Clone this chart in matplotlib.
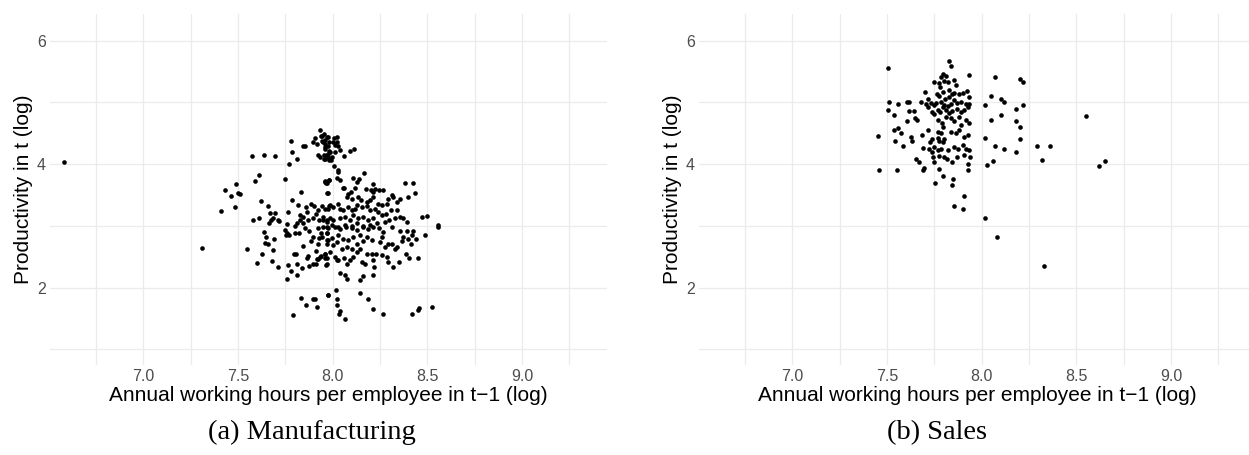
import matplotlib.pyplot as plt
from matplotlib.ticker import MultipleLocator

# Manufacturing: log annual hours per employee (t-1) and log productivity (t)
mfg_hours = [
    # upper-left part of the cloud
    7.933, 7.907, 7.937, 7.956, 7.977, 7.894, 7.915, 7.945, 7.961, 7.979,
    7.958, 7.975, 7.982, 7.924, 7.935, 7.956, 7.977, 7.961, 7.982, 7.778,
    7.783, 7.771, 7.813, 7.842, 7.852, 7.572, 7.637, 7.694, 7.609, 7.592,
    7.748, 7.489, 7.430, 7.463, 7.502, 7.509, 7.486, 7.412, 7.620, 7.657,
    7.669, 7.695, 7.581, 7.613, 7.674, 7.683, 7.662, 7.711, 7.718, 7.764,
    7.785, 7.815, 7.833, 7.960, 7.968, 7.982, 7.975, 7.827, 7.845, 7.863,
    7.859, 7.886, 7.901, 7.924, 7.942, 7.961, 7.979, 7.912, 7.898, 7.926,
    7.951, 7.970, 7.986, 7.827, 7.845, 7.871, 7.761, 7.810,
    # lower-left part
    7.308, 7.546, 7.639, 7.646, 7.690, 7.642, 7.656, 7.683, 7.627, 7.599,
    7.678, 7.711, 7.748, 7.759, 7.752, 7.768, 7.801, 7.803, 7.822, 7.852,
    7.877, 7.924, 7.937, 7.972, 7.970, 7.894, 7.930, 7.977, 7.884, 7.921,
    7.972, 7.845, 7.910, 7.805, 7.798, 7.868, 7.863, 7.937, 7.958, 7.968,
    7.915, 7.894, 7.912, 7.924, 7.965, 7.762, 7.813, 7.836, 7.875, 7.778,
    7.812, 7.761, 7.833, 7.859, 7.898, 7.908, 7.919, 7.975, 7.790,
    # upper-right part
    7.942, 7.972, 7.960, 7.951, 8.007, 8.025, 8.004, 8.021, 8.012, 8.030,
    7.960, 7.986, 8.012, 7.968, 7.954, 7.975, 7.998, 7.993, 8.039, 8.060,
    8.092, 8.113, 8.007, 8.030, 8.030, 8.021, 8.039, 7.960, 7.965, 7.982,
    7.972, 8.053, 8.060, 8.109, 8.139, 8.164, 8.213, 8.176, 8.202, 8.224,
    8.215, 8.246, 8.268, 8.127, 8.118, 8.095, 8.083, 8.074, 8.100, 8.136,
    8.148, 8.180, 8.197, 8.215, 8.241, 8.259, 8.285, 8.294, 8.311, 8.342,
    8.356, 8.317, 8.380, 8.424, 8.435, 8.400, 8.470, 8.496, 8.558, 7.986,
    7.977, 8.004, 8.030, 8.039, 8.056, 8.083, 8.100, 8.118, 8.130, 8.153,
    8.180, 8.197, 8.224, 8.241, 8.259, 8.282, 8.306, 8.338, 8.356, 8.329,
    8.299, 8.276, 8.391, 8.373, 7.951, 7.968, 8.004, 8.039, 8.065, 8.092,
    8.109, 8.136, 8.162, 8.188, 8.215, 8.233, 8.197, 8.162, 8.127, 8.100,
    8.065, 8.030, 7.995,
    # lower-right part
    7.951, 7.977, 8.012, 8.039, 8.070, 8.100, 8.127, 8.162, 8.188, 8.215,
    8.246, 8.268, 8.312, 8.356, 8.391, 8.426, 8.417, 8.488, 8.558, 8.373,
    8.364, 8.400, 8.412, 8.440, 7.968, 7.942, 7.968, 7.995, 8.030, 8.056,
    8.021, 8.083, 8.109, 8.144, 8.180, 8.206, 8.162, 8.127, 8.259, 8.250,
    8.294, 8.311, 8.329, 8.338, 8.276, 8.004, 8.048, 8.074, 8.100, 8.127,
    8.144, 8.180, 8.206, 8.229, 8.259, 8.285, 8.294, 8.317, 8.349, 8.387,
    8.405, 8.452, 7.986, 7.960, 7.933, 7.960, 8.012, 8.030, 8.060, 8.092,
    8.109, 8.153, 8.171, 8.215, 8.218, 7.970, 8.021, 8.074, 8.039, 8.065,
    8.074, 8.144, 8.162, 8.215, 7.977, 8.018, 8.021, 8.025, 8.039, 8.035,
    8.065, 8.144, 8.188, 8.215, 8.264, 8.417, 8.452, 8.458, 8.523,
    # outlier
    6.580,
]
mfg_prod = [
    4.55, 4.43, 4.45, 4.49, 4.44, 4.35, 4.32, 4.37, 4.33, 4.36,
    4.27, 4.29, 4.22, 4.15, 4.12, 4.15, 4.17, 4.08, 4.06, 4.38,
    4.20, 4.00, 4.09, 4.29, 4.30, 4.13, 4.15, 4.13, 3.83, 3.72,
    3.76, 3.68, 3.58, 3.48, 3.54, 3.52, 3.30, 3.24, 3.40, 3.33,
    3.21, 3.21, 3.09, 3.12, 3.09, 3.13, 3.04, 3.10, 3.08, 3.22,
    3.42, 3.34, 3.55, 3.71, 3.69, 3.74, 3.54, 3.17, 3.15, 3.23,
    3.30, 3.36, 3.32, 3.26, 3.32, 3.28, 3.32, 3.19, 3.12, 3.09,
    3.15, 3.09, 3.12, 3.09, 3.04, 3.09, 3.03, 3.04,

    2.65, 2.62, 2.90, 2.82, 2.78, 2.72, 2.70, 2.61, 2.55, 2.40,
    2.43, 2.34, 2.93, 2.89, 2.86, 2.85, 3.00, 2.89, 2.89, 2.96,
    2.92, 2.97, 2.89, 2.99, 2.89, 2.82, 2.80, 2.77, 2.76, 2.70,
    2.70, 2.67, 2.59, 2.55, 2.54, 2.51, 2.48, 2.51, 2.54, 2.48,
    2.46, 2.39, 2.39, 2.46, 2.36, 2.37, 2.38, 2.32, 2.35, 2.27,
    2.20, 2.14, 1.84, 1.72, 1.81, 1.82, 1.68, 1.88, 1.55,

    4.45, 4.44, 4.39, 4.35, 4.43, 4.44, 4.36, 4.35, 4.31, 4.29,
    4.25, 4.20, 4.19, 4.15, 4.09, 4.12, 4.11, 4.06, 4.23, 4.13,
    4.21, 4.25, 3.97, 3.90, 3.87, 3.77, 3.74, 3.73, 3.70, 3.75,
    3.54, 3.62, 3.62, 3.78, 3.76, 3.85, 3.68, 3.60, 3.58, 3.60,
    3.55, 3.58, 3.58, 3.71, 3.61, 3.55, 3.51, 3.47, 3.44, 3.47,
    3.42, 3.39, 3.42, 3.46, 3.36, 3.34, 3.36, 3.44, 3.50, 3.39,
    3.43, 3.47, 3.69, 3.70, 3.53, 3.47, 3.15, 3.16, 3.02, 3.34,
    3.28, 3.31, 3.36, 3.28, 3.26, 3.31, 3.26, 3.28, 3.34, 3.30,
    3.32, 3.26, 3.28, 3.23, 3.17, 3.20, 3.26, 3.26, 3.15, 3.12,
    3.10, 3.07, 3.07, 3.12, 3.10, 3.07, 3.09, 3.12, 3.15, 3.09,
    3.17, 3.12, 3.15, 3.09, 3.12, 3.04, 3.01, 3.00, 3.04, 3.00,
    3.01, 2.99, 3.01,

    2.99, 2.96, 2.99, 2.95, 2.99, 2.97, 2.93, 2.99, 2.95, 2.99,
    2.97, 2.90, 2.99, 2.91, 2.91, 2.91, 2.86, 2.85, 2.99, 2.82,
    2.75, 2.79, 2.70, 2.79, 2.88, 2.82, 2.77, 2.81, 2.85, 2.79,
    2.74, 2.77, 2.82, 2.85, 2.82, 2.77, 2.75, 2.71, 2.82, 2.74,
    2.70, 2.70, 2.63, 2.66, 2.66, 2.69, 2.63, 2.66, 2.62, 2.58,
    2.63, 2.55, 2.55, 2.55, 2.53, 2.50, 2.42, 2.34, 2.41, 2.54,
    2.48, 2.48, 2.58, 2.54, 2.50, 2.48, 2.50, 2.45, 2.48, 2.45,
    2.50, 2.42, 2.38, 2.45, 2.34, 2.38, 2.45, 2.39, 2.23, 2.20,
    2.14, 2.13, 2.19, 2.20, 1.88, 1.96, 1.81, 1.72, 1.62, 1.57,
    1.50, 1.92, 1.81, 1.66, 1.57, 1.58, 1.64, 1.67, 1.69,

    4.03,
]

# Sales: same variables
sales_hours = [
    7.503, 7.826, 7.838, 7.794, 7.812, 7.785, 7.746, 7.776, 7.801, 7.824,
    7.856, 7.865, 7.935, 7.781, 7.794, 7.764, 7.829, 7.842, 7.856, 7.882,
    7.900, 7.922, 7.935, 7.701, 7.715, 7.776, 7.806, 7.829, 7.733, 7.746,
    7.759, 7.785, 7.803, 7.820, 7.838, 7.856, 7.870, 7.891, 7.917, 7.935,
    7.680, 7.706, 7.512, 7.560, 7.606, 7.618, 7.507, 7.535, 7.618, 7.640,
    7.606, 7.650, 7.657, 7.715, 7.736, 7.746, 7.771, 7.781, 7.794, 7.812,
    7.829, 7.845, 7.870, 7.891, 7.909, 7.926, 7.767, 7.788, 7.794, 7.812,
    7.838, 7.856, 7.879, 7.891, 7.917, 7.935, 7.838, 7.865, 7.882, 7.909,
    7.926, 7.767, 7.785, 7.771, 7.799, 7.719, 7.539, 7.557, 7.574, 7.451,
    7.542, 7.627, 7.631, 7.683, 7.583, 7.689, 7.728, 7.740, 7.776, 7.794,
    7.724, 7.736, 7.746, 7.771, 7.785, 7.820, 7.856, 7.873, 7.900, 7.917,
    7.935, 7.653, 7.741, 7.776, 7.799, 7.817, 7.868, 7.909, 7.937,
    7.460, 7.551, 7.671, 7.688, 7.694, 7.750, 7.776, 7.843, 7.794, 7.847,
    7.842, 7.754, 7.926, 7.926, 7.905, 7.852, 7.903,
    8.07, 8.20, 8.22, 8.05, 8.10, 8.12, 8.02, 8.18, 8.22, 8.05,
    8.10, 8.18, 8.20, 8.02, 8.07, 8.12, 8.18, 8.03, 8.06, 8.20,
    8.29, 8.32, 8.36, 8.55, 8.62, 8.65, 8.02, 8.08, 8.33,
]
sales_prod = [
    5.56, 5.67, 5.59, 5.46, 5.42, 5.41, 5.33, 5.31, 5.35, 5.33,
    5.36, 5.28, 5.44, 5.25, 5.17, 5.14, 5.20, 5.14, 5.15, 5.13,
    5.15, 5.19, 5.09, 5.17, 5.06, 5.10, 5.05, 5.09, 4.99, 4.95,
    4.99, 5.01, 4.95, 4.94, 4.98, 5.04, 4.99, 5.01, 4.98, 4.97,
    5.01, 4.98, 5.00, 4.97, 5.00, 5.00, 4.88, 4.79, 4.86, 4.86,
    4.70, 4.74, 4.71, 4.93, 4.85, 4.81, 4.88, 4.84, 4.92, 4.88,
    4.83, 4.86, 4.90, 4.85, 4.88, 4.92, 4.71, 4.67, 4.60, 4.77,
    4.74, 4.69, 4.77, 4.63, 4.71, 4.66, 4.52, 4.50, 4.55, 4.44,
    4.47, 4.52, 4.51, 4.43, 4.40, 4.56, 4.56, 4.59, 4.50, 4.45,
    4.37, 4.44, 4.38, 4.47, 4.29, 4.26, 4.35, 4.40, 4.38, 4.36,
    4.24, 4.20, 4.28, 4.23, 4.25, 4.23, 4.28, 4.24, 4.31, 4.25,
    4.23, 4.09, 4.11, 4.13, 4.12, 4.09, 4.12, 4.15, 4.12,
    3.90, 3.91, 4.04, 3.90, 3.94, 4.03, 3.92, 4.04, 3.81, 3.76,
    3.67, 3.70, 4.01, 3.90, 3.48, 3.33, 3.27,
    5.41, 5.38, 5.33, 5.10, 5.05, 5.00, 4.95, 4.90, 4.95, 4.72,
    4.80, 4.70, 4.60, 4.42, 4.30, 4.25, 4.20, 3.98, 4.05, 4.40,
    4.30, 4.07, 4.30, 4.78, 3.97, 4.05, 3.13, 2.82, 2.35,
]

captions = ["(a) Manufacturing", "(b) Sales"]
x_label = "Annual working hours per employee in t\u22121 (log)"
y_label = "Productivity in t (log)"

plt.rcParams["font.family"] = ["Liberation Sans", "DejaVu Sans"]

fig = plt.figure(figsize=(12.49, 4.55), dpi=100)
ax_left = fig.add_axes([0.0400, 0.1978, 0.4462, 0.7714])
ax_right = fig.add_axes([0.5596, 0.1978, 0.4462, 0.7714])

panels = [
    (ax_left, mfg_hours, mfg_prod, captions[0], 0.25),
    (ax_right, sales_hours, sales_prod, captions[1], 0.75),
]

for ax, hours, prod, caption, cx in panels:
    ax.scatter(hours, prod, s=11, color="black", linewidths=0, zorder=3)

    ax.set_xlim(6.506, 9.451)
    ax.set_ylim(0.748, 6.43)
    ax.xaxis.set_major_locator(MultipleLocator(0.5))
    ax.xaxis.set_minor_locator(MultipleLocator(0.25))
    ax.yaxis.set_major_locator(MultipleLocator(2))
    ax.yaxis.set_minor_locator(MultipleLocator(1))
    ax.xaxis.set_major_formatter(lambda v, pos: f"{v:.1f}")
    ax.yaxis.set_major_formatter(lambda v, pos: f"{v:.0f}")

    ax.grid(which="both", color="#EBEBEB", linewidth=0.9)
    ax.set_axisbelow(True)
    for spine in ax.spines.values():
        spine.set_visible(False)
    ax.tick_params(which="both", length=0, labelsize=11.5, labelcolor="#4D4D4D", pad=3)

    ax.set_xlabel(x_label, fontsize=15, labelpad=1)
    ax.set_ylabel(y_label, fontsize=15, labelpad=3)

    fig.text(cx, 0.05, caption, ha="center", va="center",
             fontsize=20.5, family=["Liberation Serif", "DejaVu Serif"])

fig.savefig("out.png", dpi=100)
